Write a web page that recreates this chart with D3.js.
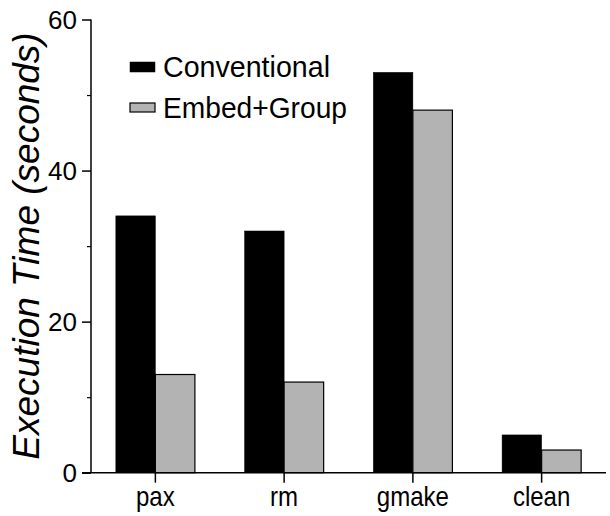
<!DOCTYPE html>
<html><head><meta charset="utf-8">
<script src="https://cdn.jsdelivr.net/npm/d3@7"></script>
<style>body{margin:0;background:#fff}svg text{font-family:"Liberation Sans",Arial,sans-serif}</style>
</head><body><svg id="c" width="610" height="516"></svg>
<script>
const categories = ["pax","rm","gmake","clean"];
const seriesNames = ["Conventional","Embed+Group"];
const conventional = [34,32,53,5];
const embedGroup = [13,12,48,3];
const yTicks = [0,20,40,60];
const yMinorTicks = [10,30,50];
const colors = ["#000000","#b3b3b3"];

const svg = d3.select("#c");
const x0 = d3.scaleBand().domain(categories).range([91,606]).paddingInner(0.386).paddingOuter(0.193);
const x1 = d3.scaleBand().domain(seriesNames).range([0,x0.bandwidth()]);
const y = d3.scaleLinear().domain([0,60]).range([472.7,19.5]);

const series = [conventional, embedGroup];
const g = svg.append("g");
series.forEach((vals,si)=>{
  g.selectAll(null).data(categories).enter().append("rect")
    .attr("x",d=>x0(d)+x1(seriesNames[si]))
    .attr("width",x1.bandwidth())
    .attr("y",(d,i)=>y(vals[i]))
    .attr("height",(d,i)=>y(0)-y(vals[i]))
    .attr("fill",colors[si])
    .attr("stroke","#000").attr("stroke-width",si===1?1.2:0.5);
});

const FF = '"Liberation Sans", Arial, sans-serif';
// y axis
const ya = svg.append("g").attr("transform","translate(91,0)")
  .call(d3.axisLeft(y).tickValues(yTicks).tickSize(9).tickPadding(5).tickFormat(d3.format("d")));
ya.select(".domain").attr("stroke-width",1.5).attr("d","M0,"+y(60)+"V"+y(0));
ya.selectAll(".tick line").attr("stroke-width",1.5);
ya.selectAll("text").attr("font-size",26).attr("font-family",FF).attr("fill","#000")
  .attr("dy","0.35em");
svg.append("g").attr("transform","translate(91,0)")
  .call(d3.axisLeft(y).tickValues(yMinorTicks).tickSize(4).tickFormat(""))
  .call(s=>s.select(".domain").remove())
  .selectAll(".tick line").attr("stroke-width",1.2);

// x axis
const xa = svg.append("g").attr("transform","translate(0,"+y(0)+")")
  .call(d3.axisBottom(x0).tickSize(10).tickPadding(4.5).tickSizeOuter(0));
xa.select(".domain").attr("stroke-width",1.5).attr("d","M82,0H606");
xa.selectAll(".tick line").attr("stroke-width",1.5);
xa.selectAll(".tick text").attr("font-size",27).attr("font-family",FF).attr("fill","#000")
  .attr("transform","scale(0.89,1)");

// y title
svg.append("text").attr("transform","translate(39,246) rotate(-90)")
  .attr("text-anchor","middle").attr("font-size",37).attr("font-style","italic")
  .attr("font-family",FF)
  .text("Execution Time (seconds)");

// legend
const leg = svg.append("g");
const legY = [62,103];
const legW = [167,184];
seriesNames.forEach((n,i)=>{
  leg.append("rect").attr("x",130).attr("y",legY[i]).attr("width",25).attr("height",i===0?10:9)
    .attr("fill",colors[i]).attr("stroke","#000").attr("stroke-width",i===1?1.2:0.5);
  leg.append("text").attr("x",163).attr("y",legY[i]+15).attr("font-size",29).attr("font-family",FF)
    .attr("textLength",legW[i]).attr("lengthAdjust","spacingAndGlyphs").text(n);
});
</script></body></html>
